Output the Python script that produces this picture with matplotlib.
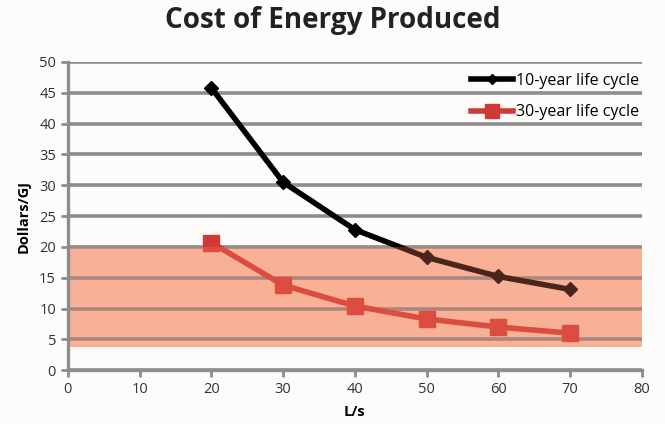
import matplotlib.pyplot as plt
from matplotlib.lines import Line2D

flow = [20, 30, 40, 50, 60, 70]
cost_10yr = [45.8, 30.5, 22.8, 18.3, 15.2, 13.1]
cost_30yr = [20.7, 13.8, 10.4, 8.3, 7.0, 6.0]
band_low, band_high = 3.8, 20

plt.rcParams['font.family'] = ['Open Sans', 'DejaVu Sans']

fig = plt.figure(figsize=(6.65, 4.24), dpi=100)
fig.patch.set_facecolor('#fdfcfb')
ax = fig.add_axes([0.102, 0.127, 0.863, 0.727])
ax.set_facecolor('#fdfcfb')

ax.set_xlim(0, 80)
ax.set_ylim(0, 50)
ax.set_xticks(range(0, 81, 10))
ax.set_yticks(range(0, 51, 5))

ax.set_axisbelow(True)
ax.yaxis.grid(True, color='#8c8c8c', linewidth=2.6)

# target band: a solid underlay plus a translucent tint over the lines
ax.axhspan(band_low, band_high, color='#f9c7b1', linewidth=0, zorder=0.2)

ax.plot(flow, cost_10yr, color='black', linewidth=4, marker='D', markersize=7,
        label='10-year life cycle', zorder=3, solid_capstyle='round')
ax.plot(flow, cost_30yr, color='#d03a35', linewidth=4, marker='s', markersize=11,
        label='30-year life cycle', zorder=3)

ax.axhspan(band_low, band_high, color='#f77b5d', alpha=0.3,
           linewidth=0, zorder=4)

for side in ('top', 'right'):
    ax.spines[side].set_visible(False)
for side in ('left', 'bottom'):
    ax.spines[side].set_color('#8c8c8c')
    ax.spines[side].set_linewidth(2.4)
    ax.spines[side].set_zorder(5)
ax.tick_params(axis='both', color='#8c8c8c', width=2, length=5,
               labelsize=10.5, labelcolor='#333333')

ax.set_xlabel('L/s', fontsize=10.5, fontweight='bold', labelpad=6)
ax.set_ylabel('Dollars/GJ', fontsize=10.5, fontweight='bold', labelpad=6)
fig.suptitle('Cost of Energy Produced', fontsize=20, fontweight='bold',
             color='#222222', y=0.985)

handles = [Line2D([], [], color='black', linewidth=4, marker='D', markersize=5),
           Line2D([], [], color='#d03a35', linewidth=4, marker='s', markersize=10)]
ax.legend(handles, ['10-year life cycle', '30-year life cycle'],
          loc='upper right', bbox_to_anchor=(1.015, 1.0), frameon=False,
          fontsize=11.5, handlelength=2.6, handletextpad=0.2, labelspacing=0.95,
          borderaxespad=0.3)

fig.savefig('out.png', dpi=100, facecolor=fig.get_facecolor())
